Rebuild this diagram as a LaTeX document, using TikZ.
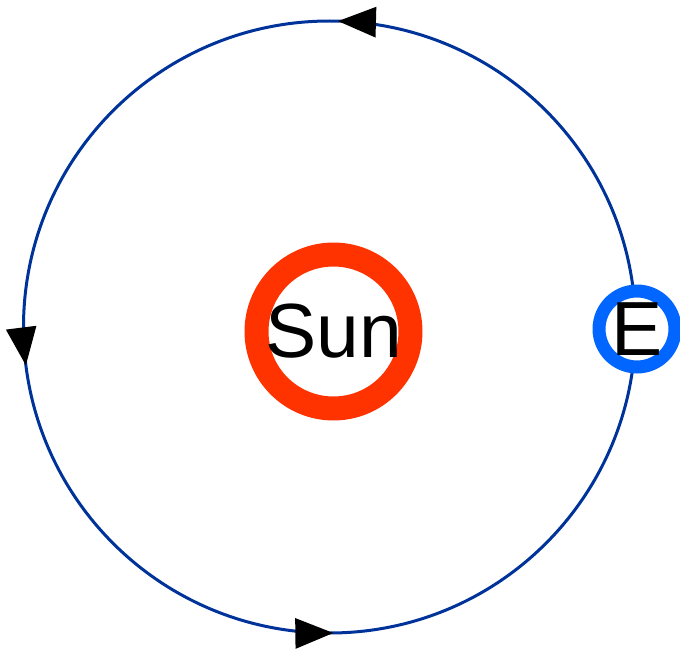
\documentclass[tikz,border=0pt]{standalone}
\usepackage{fontspec}
\setmainfont{Liberation Sans}
\usepackage{xcolor}
\usetikzlibrary{arrows.meta,decorations.markings}

\definecolor{orbitblue}{HTML}{003399}
\definecolor{sunred}{HTML}{FF3300}
\definecolor{earthblue}{HTML}{0066FF}

\begin{document}
\begin{tikzpicture}[
    x=0.02cm, y=-0.02cm,
    orbit/.style={
        draw=orbitblue,
        line width=0.06cm,
        postaction={decorate},
        decoration={markings,
            mark=at position 0.2456 with {\arrow{Triangle[length=0.76cm,width=0.6cm,color=black]}},
            mark=at position 0.52 with {\arrow{Triangle[length=0.76cm,width=0.6cm,color=black]}},
            mark=at position 0.752 with {\arrow{Triangle[length=0.76cm,width=0.6cm,color=black]}}
        }
    },
    body/.style={
        circle,
        fill=white,
        inner sep=0pt,
        font=\fontsize{43.7}{50}\selectfont
    },
    sunbox/.style={
        body,
        draw=sunred,
        line width=0.48cm,
        minimum size=3.08cm
    },
    earthbox/.style={
        body,
        draw=earthblue,
        line width=0.26cm,
        minimum size=1.52cm
    }
]
\useasboundingbox (0,0) rectangle (680,652);

\coordinate (centre) at (329.5,327);

% orbit, counterclockwise
\draw[orbit] (centre) ++(0:306) arc[start angle=0, end angle=-360, radius=306];

\node[sunbox] (sun) at (333.5,331.5) {Sun};

\node[earthbox] (earth) at (637,329) {E};

\end{tikzpicture}
\end{document}
